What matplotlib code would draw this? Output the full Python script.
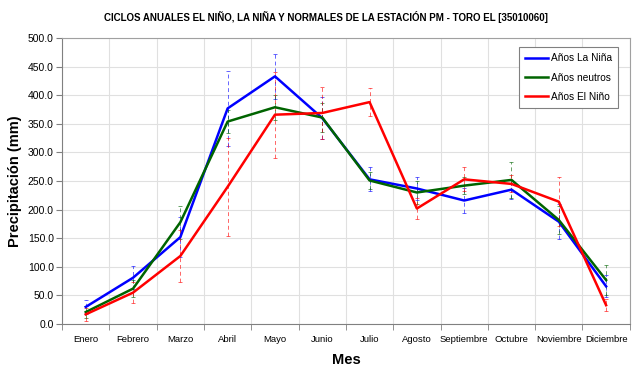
import matplotlib
matplotlib.use("Agg")
import matplotlib.pyplot as plt
import numpy as np

months = ["Enero", "Febrero", "Marzo", "Abril", "Mayo", "Junio", "Julio",
          "Agosto", "Septiembre", "Octubre", "Noviembre", "Diciembre"]
nina = [30, 81, 152, 377, 433, 360, 253, 237, 216, 235, 179, 66]
nina_err = [12, 20, 35, 66, 39, 37, 21, 20, 21, 17, 31, 19]
neutro = [21, 62, 178, 354, 379, 361, 251, 230, 242, 252, 182, 77]
neutro_err = [10, 15, 29, 20, 22, 25, 15, 20, 15, 31, 25, 26]
nino = [17, 55, 119, 240, 366, 369, 388, 202, 253, 245, 214, 33]
nino_err = [12, 18, 45, 86, 75, 46, 25, 19, 21, 15, 43, 10]

plt.rcParams['font.family'] = ['Liberation Sans', 'DejaVu Sans']

fig = plt.figure(figsize=(6.4, 3.84), dpi=100)
ax = fig.add_axes([0.097, 0.156, 0.887, 0.745])
x = np.arange(len(months))

series = [(nina, nina_err, "#0000ff", "Años La Niña"),
          (neutro, neutro_err, "#006400", "Años neutros"),
          (nino, nino_err, "#ff0000", "Años El Niño")]
for vals, err, col, lab in series:
    eb = ax.errorbar(x, vals, yerr=err, fmt='none', ecolor=col, elinewidth=0.7,
                     capsize=1.5, capthick=0.7, alpha=0.6, zorder=2)
    for lc in eb[2]:
        lc.set_linestyle((0, (4, 3)))
for vals, err, col, lab in series:
    ax.plot(x, vals, color=col, lw=1.8, label=lab, zorder=3)

ax.set_xlim(-0.5, 11.5)
ax.set_ylim(0, 500)
ax.set_yticks(np.arange(0, 501, 50))
ax.set_yticklabels([f"{v:.1f}" for v in np.arange(0, 501, 50)], fontsize=7.5)
ax.set_xticks(x)
ax.set_xticklabels(months, fontsize=6.8)
ax.set_xticks(np.arange(-0.5, 12, 1), minor=True)
ax.tick_params(axis='x', which='major', length=0, pad=8)
ax.tick_params(axis='x', which='minor', length=4, color='#808080')
ax.tick_params(axis='y', length=4, color='#808080', pad=2)
ax.grid(True, axis='y', color='#e0e0e0', lw=0.8)
ax.grid(True, axis='x', which='minor', color='#e0e0e0', lw=0.8)
for s in ax.spines.values():
    s.set_color('#a0a0a0')
ax.spines['left'].set_color('#808080')
ax.spines['bottom'].set_color('#808080')
ax.set_axisbelow(True)

ax.set_ylabel("Precipitación (mm)", fontsize=10.5, fontweight='bold', labelpad=4)
ax.set_xlabel("Mes", fontsize=10.5, fontweight='bold', labelpad=6)
fig.text(0.51, 0.955, "CICLOS ANUALES EL NIÑO, LA NIÑA Y NORMALES DE LA ESTACIÓN PM - TORO EL [35010060]",
         ha='center', va='center', fontsize=7, fontweight='bold')

leg = ax.legend(loc='upper right', fontsize=7.3, fancybox=False, framealpha=1,
                edgecolor='#808080', handlelength=2.2, handletextpad=0.3,
                borderpad=0.6, labelspacing=0.9,
                bbox_to_anchor=(0.988, 0.985))
leg.get_frame().set_linewidth(0.8)

fig.savefig("out.png", dpi=100)
